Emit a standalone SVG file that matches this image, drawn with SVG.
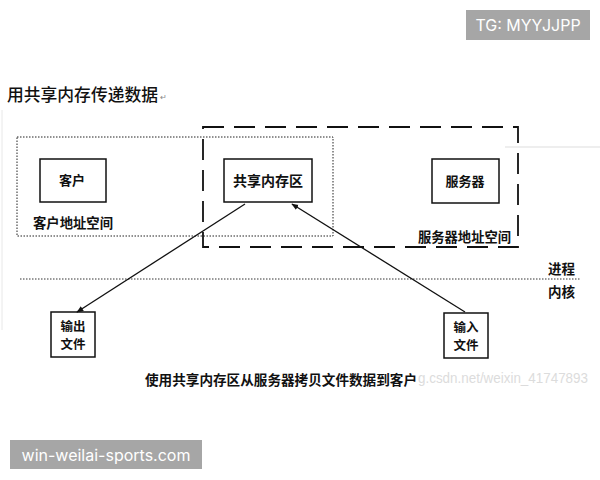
<svg xmlns="http://www.w3.org/2000/svg" width="600" height="480" viewBox="0 0 600 480">
<defs>
<marker id="ah" viewBox="0 0 10 10" refX="9" refY="5" markerWidth="7" markerHeight="7" orient="auto" markerUnits="userSpaceOnUse">
<path d="M0,1 L10,5 L0,9 z" fill="#111"/>
</marker>
<style>
.cn{font-family:"Noto Sans CJK SC","Noto Sans",sans-serif;fill:#111;font-weight:700}
.box{fill:#fff;stroke:#111;stroke-width:1.5}
.tag{fill:#a6a6a6}
.tagt{font-family:Inter,"Liberation Sans",sans-serif;fill:#fff;font-size:16px}
</style>
</defs>
<rect width="600" height="480" fill="#fff"/>
<text x="7" y="101" class="cn" style="font-weight:500;font-size:17px" textLength="151" lengthAdjust="spacingAndGlyphs">用共享内存传递数据</text>
<text x="160" y="100" font-family="Liberation Sans,sans-serif" font-size="8" fill="#888">↵</text>
<line x1="505" y1="147" x2="600" y2="147" stroke="#eee" stroke-width="2"/>
<line x1="2" y1="110" x2="2" y2="330" stroke="#e8e8e8" stroke-width="1"/>
<g id="client-space">
<rect x="17" y="137" width="316" height="99" fill="none" stroke="#222" stroke-width="1" stroke-dasharray="1.5 1.5"/>
<text x="33" y="228" class="cn" font-size="13.5" textLength="80" lengthAdjust="spacingAndGlyphs">客户地址空间</text>
</g>
<g id="server-space">
<rect x="203" y="127" width="315" height="120" fill="none" stroke="#111" stroke-width="1.8" stroke-dasharray="21 10"/>
<text x="511" y="242" class="cn" font-size="13.5" text-anchor="end" textLength="93" lengthAdjust="spacingAndGlyphs">服务器地址空间</text>
</g>
<g id="client">
<rect x="40" y="159" width="66" height="43" class="box"/>
<text x="72" y="185" class="cn" font-size="13" text-anchor="middle">客户</text>
</g>
<g id="shm">
<rect x="224" y="159" width="88" height="43" class="box"/>
<text x="268" y="186" class="cn" font-size="14" text-anchor="middle">共享内存区</text>
</g>
<g id="server">
<rect x="432" y="159" width="67" height="44" class="box"/>
<text x="465" y="186" class="cn" font-size="13" text-anchor="middle">服务器</text>
</g>
<g id="divider">
<line x1="20" y1="279" x2="580" y2="279" stroke="#333" stroke-width="1" stroke-dasharray="1.5 1.5"/>
<text x="548" y="274" class="cn" font-size="13.5">进程</text>
<text x="548" y="297" class="cn" font-size="13.5">内核</text>
</g>
<g id="outfile">
<rect x="51" y="312" width="44" height="45" class="box"/>
<text x="73" y="331" class="cn" font-size="12.5" text-anchor="middle">输出</text>
<text x="73" y="349" class="cn" font-size="12.5" text-anchor="middle">文件</text>
</g>
<g id="infile">
<rect x="444" y="313" width="44" height="45" class="box"/>
<text x="466" y="332" class="cn" font-size="12.5" text-anchor="middle">输入</text>
<text x="466" y="350" class="cn" font-size="12.5" text-anchor="middle">文件</text>
</g>
<g id="connectors" stroke="#111" stroke-width="1.3" fill="none">
<line x1="245" y1="204" x2="77" y2="312" marker-end="url(#ah)"/>
<line x1="465" y1="312" x2="292" y2="204" marker-end="url(#ah)"/>
</g>
<text x="418" y="383" font-family="Liberation Sans,sans-serif" font-size="14" fill="#dcdcdc" textLength="170" lengthAdjust="spacingAndGlyphs">g.csdn.net/weixin_41747893</text>
<text x="145" y="385" class="cn" font-size="13.6" textLength="272" lengthAdjust="spacingAndGlyphs">使用共享内存区从服务器拷贝文件数据到客户</text>
<rect x="466" y="10" width="124" height="30" class="tag"/>
<text x="528" y="31" class="tagt" text-anchor="middle">TG: MYYJJPP</text>
<rect x="10" y="440" width="192" height="29" class="tag"/>
<text x="106" y="460.5" class="tagt" text-anchor="middle">win-weilai-sports.com</text>
</svg>
